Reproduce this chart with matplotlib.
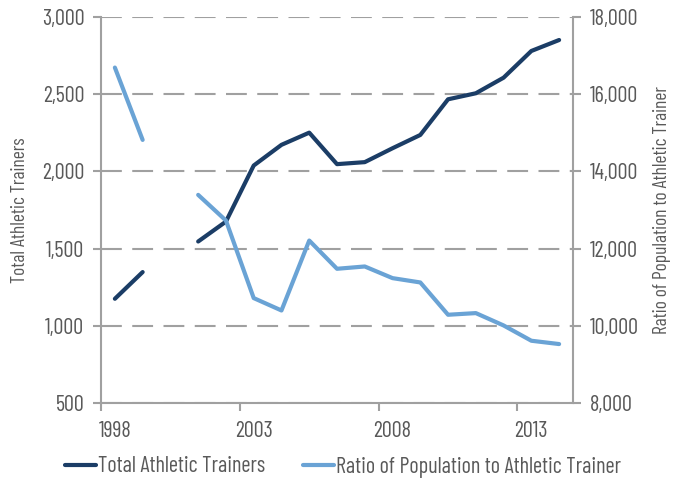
import matplotlib
matplotlib.use("Agg")
import matplotlib.pyplot as plt
import numpy as np
from matplotlib import font_manager as fm

years = [1998, 1999, 2000, 2001, 2002, 2003, 2004, 2005, 2006, 2007,
         2008, 2009, 2010, 2011, 2012, 2013, 2014]
total_trainers = [1175, 1348, np.nan, 1546, 1675, 2038, 2172, 2251, 2047, 2060,
                  2150, 2236, 2467, 2506, 2607, 2780, 2851]
ratio_pop = [16690, 14816, np.nan, 13392, 12727, 10718, 10397, 12209, 11477, 11537,
             11235, 11123, 10286, 10329, 10009, 9613, 9527]
tick_years = ["1998", "2003", "2008", "2013"]

avail = {f.name for f in fm.fontManager.ttflist}
fam = next((f for f in ["Barlow Condensed", "Fira Sans Condensed", "DejaVu Sans"] if f in avail), "DejaVu Sans")
plt.rcParams['font.family'] = [fam, 'DejaVu Sans']

dark = "#1B3D66"
light = "#6AA3D5"
grey = "#A0A0A0"
txt = "#595959"

fig = plt.figure(figsize=(6.76, 4.84), dpi=100)
ax = fig.add_axes([101/676, 1-403/484, 472/676, 386/484])
ax2 = ax.twinx()

x = np.arange(len(years))
l1, = ax.plot(x, total_trainers, color=dark, lw=3, solid_capstyle='round', zorder=3,
              label="Total Athletic Trainers")
l2, = ax2.plot(x, ratio_pop, color=light, lw=3, solid_capstyle='round', zorder=3,
               label="Ratio of Population to Athletic Trainer")

ax.set_xlim(-0.5, len(years) - 0.5)
ax.set_ylim(500, 3000)
ax2.set_ylim(8000, 18000)
ax.set_yticks([500, 1000, 1500, 2000, 2500, 3000])
ax2.set_yticks([8000, 10000, 12000, 14000, 16000, 18000])
ax.yaxis.set_major_formatter(matplotlib.ticker.FuncFormatter(lambda v, p: f"{int(v):,}"))
ax2.yaxis.set_major_formatter(matplotlib.ticker.FuncFormatter(lambda v, p: f"{int(v):,}"))

tick_pos = [years.index(int(t)) for t in tick_years]
ax.set_xticks([p - 0.5 for p in tick_pos])
ax.set_xticklabels([])
ax.set_xticks(tick_pos, minor=True)
ax.set_xticklabels(tick_years, minor=True)
ax.tick_params(axis='x', which='minor', length=0, pad=13, labelsize=16, colors=txt)
ax.tick_params(axis='x', which='major', length=6, width=1.5, color=grey, direction='out')

for a in (ax, ax2):
    a.tick_params(axis='y', length=6, width=1.5, color=grey, labelsize=16, labelcolor=txt, pad=6)
    for s in a.spines.values():
        s.set_visible(False)
ax.spines['left'].set_visible(True)
ax.spines['left'].set_color(grey)
ax.spines['left'].set_linewidth(1.5)
ax.spines['bottom'].set_visible(True)
ax.spines['bottom'].set_color(grey)
ax.spines['bottom'].set_linewidth(1.5)
ax2.spines['right'].set_visible(True)
ax2.spines['right'].set_color(grey)
ax2.spines['right'].set_linewidth(1.5)

ax.yaxis.grid(True, color=grey, lw=1.5, linestyle=(0, (10, 5)))
ax.set_axisbelow(True)

ax.set_ylabel("Total Athletic Trainers", fontsize=14, color=txt, labelpad=9)
ax2.set_ylabel("Ratio of Population to Athletic Trainer", fontsize=14, color=txt, labelpad=10)

fig.legend([l1, l2], [l1.get_label(), l2.get_label()], loc='center',
           bbox_to_anchor=(343/676, 1-467/484), ncol=2, frameon=False,
           fontsize=16, labelcolor=txt, handlelength=1.4, handletextpad=0.1,
           columnspacing=1.7)

fig.savefig("out.png", dpi=100)
